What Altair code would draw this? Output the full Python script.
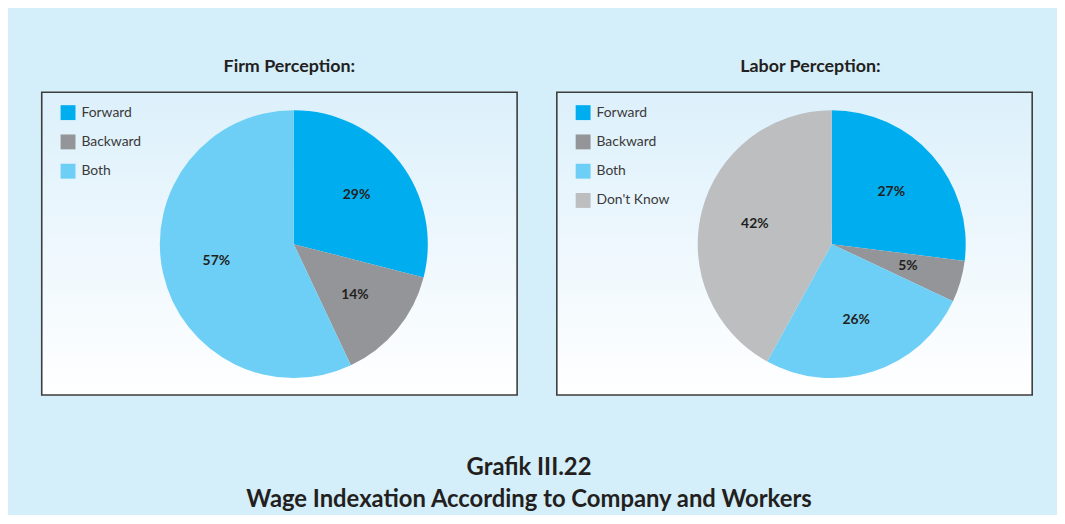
import altair as alt
import pandas as pd

firm_cats = ["Forward", "Backward", "Both"]
firm_vals = [29, 14, 57]
labor_cats = ["Forward", "Backward", "Both", "Don't Know"]
labor_vals = [27, 5, 26, 42]
cat_colors = {"Forward": "#00aeef", "Backward": "#939598", "Both": "#6dcff6", "Don't Know": "#bcbec0"}

PW, PH = 479, 305
R = 135


def panel(cats, vals, title, cx, title_dx):
    df = pd.DataFrame({
        "cat": cats,
        "val": vals,
        "idx": list(range(len(cats))),
        "label": [f"{v}%" for v in vals],
    })
    bg = alt.Chart(alt.Data(values=[{"a": 1}])).mark_rect(
        fill=alt.Gradient(
            gradient="linear",
            stops=[alt.GradientStop(color="#dcf0fb", offset=0),
                   alt.GradientStop(color="#ffffff", offset=1)],
            x1=0, x2=0, y1=0, y2=1),
        stroke="#3d3d3d", strokeWidth=1.6,
    ).encode(x=alt.value(0), x2=alt.value(PW), y=alt.value(0), y2=alt.value(PH))

    base = alt.Chart(df).encode(
        theta=alt.Theta("val:Q", stack=True),
        order=alt.Order("idx:Q"),
        x=alt.value(cx), y=alt.value(153),
    )
    arc = base.mark_arc(outerRadius=R).encode(
        color=alt.Color(
            "cat:N", sort=cats,
            scale=alt.Scale(domain=cats, range=[cat_colors[c] for c in cats]),
            legend=alt.Legend(
                title=None, orient="none", legendX=19, legendY=13,
                symbolType="square", symbolSize=225, symbolStrokeWidth=0,
                labelFont="Lato", labelFontSize=14, labelColor="#3a3a3a",
                labelOffset=6, rowPadding=14.5, padding=0),
        )
    )
    text = base.mark_text(radius=80, font="Lato", fontWeight="bold", fontSize=14,
                          color="#231f20").encode(text="label:N")
    return alt.layer(bg, arc, text).properties(
        width=PW, height=PH,
        title=alt.TitleParams(title, font="Lato", fontSize=18, fontWeight="bold",
                              color="#231f20", anchor="middle", dx=title_dx, offset=16),
    )


p1 = panel(firm_cats, firm_vals, "Firm Perception:", 254, 10)
p2 = panel(labor_cats, labor_vals, "Labor Perception:", 277, 16)

chart = alt.hconcat(p1, p2, spacing=36).resolve_scale(
    color="independent", theta="independent"
).properties(
    title=alt.TitleParams(
        ["Grafik III.22", "Wage Indexation According to Company and Workers"],
        orient="bottom", anchor="middle", font="Lato", fontSize=24, fontWeight="bold",
        color="#231f20", lineHeight=33, offset=60, dx=-8),
    padding={"left": 32, "top": 47, "right": 23, "bottom": 0},
    background="#d4eefa",
).configure_view(stroke="transparent")

chart.save("out.html", embed_options={"renderer": "svg", "actions": False})
